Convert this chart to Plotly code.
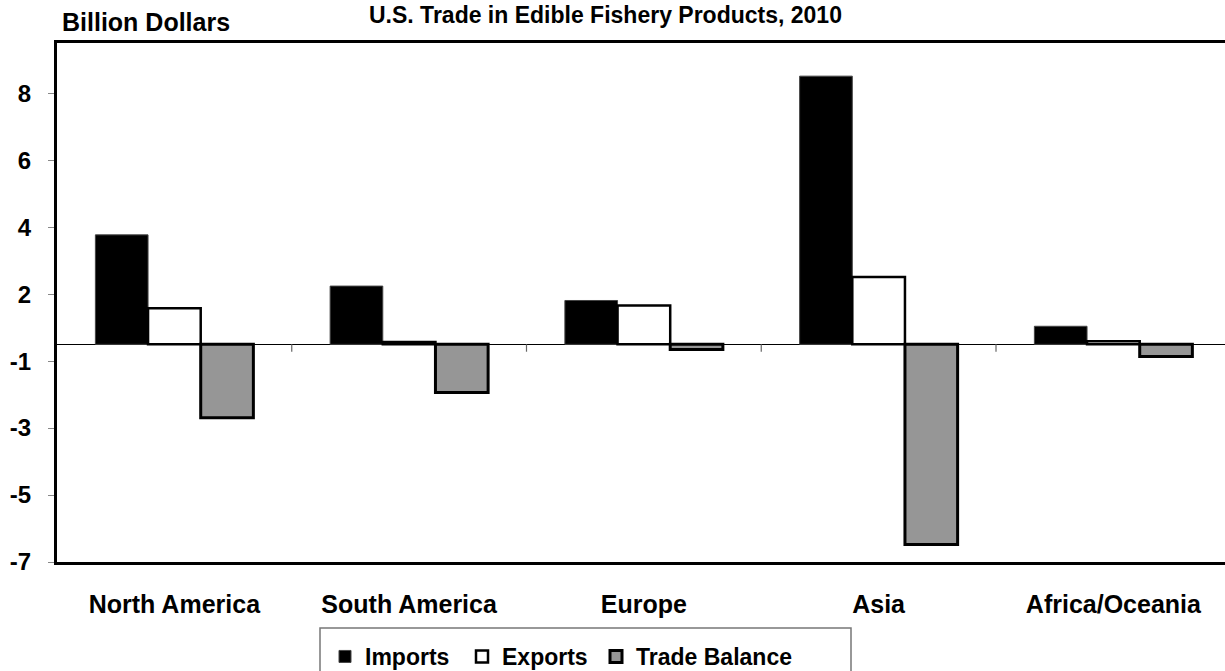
import plotly.graph_objects as go

regions = ["North America", "South America", "Europe", "Asia", "Africa/Oceania"]
imports = [3.27, 1.74, 1.31, 8.01, 0.54]
exports = [1.08, 0.07, 1.16, 2.01, 0.09]
trade_balance = [-2.19, -1.44, -0.15, -5.98, -0.36]

y_tick_vals = [-6.5, -4.5, -2.5, -0.5, 1.5, 3.5, 5.5, 7.5]
y_tick_text = ["-7", "-5", "-3", "-1", "2", "4", "6", "8"]

FONT = "Liberation Sans, Arial, sans-serif"

W, H = 1225, 671
ML, MT, MB = 57, 43, 109
plot_w = W - ML
plot_h = H - MT - MB


def px_x(p):
    return (p - ML) / plot_w


def px_y(p):
    return (H - MB - p) / plot_h


fig = go.Figure()
fig.add_trace(go.Bar(name="Imports", x=regions, y=imports, legend="legend",
                     marker=dict(color="#000000", line=dict(color="#444444", width=1))))
fig.add_trace(go.Bar(name="Exports", x=regions, y=exports, legend="legend2",
                     marker=dict(color="#ffffff", line=dict(color="#000000", width=2.5))))
fig.add_trace(go.Bar(name="Trade Balance", x=regions, y=trade_balance, legend="legend3",
                     marker=dict(color="#969696", line=dict(color="#000000", width=3))))

n = len(regions)
cat_w = 234.75
span = plot_w / cat_w

shapes = []
for i in range(n - 1):
    shapes.append(dict(type="line", xref="x", yref="y", x0=i + 0.5, x1=i + 0.5,
                       y0=0, y1=-0.22, line=dict(color="#666666", width=1.2)))
shapes.append(dict(type="rect", xref="paper", yref="paper",
                   x0=px_x(320), x1=px_x(851),
                   y0=px_y(700), y1=px_y(628),
                   line=dict(color="#777777", width=1.5), fillcolor="rgba(0,0,0,0)"))

legend_font = dict(family=FONT, size=23, weight="bold", color="#000000")


def make_legend(left_px):
    return dict(orientation="h", x=px_x(left_px), xanchor="left",
                y=px_y(635), yanchor="top", font=legend_font,
                bgcolor="rgba(0,0,0,0)", borderwidth=0, itemwidth=30)


fig.update_layout(
    width=W, height=H, autosize=False,
    margin=dict(l=ML, r=0, t=MT, b=MB, pad=0, autoexpand=False),
    paper_bgcolor="white", plot_bgcolor="white",
    barmode="group", bargap=0.327, bargroupgap=0,
    font=dict(family=FONT, color="#000000"),
    showlegend=True,
    legend=make_legend(325),
    legend2=make_legend(462),
    legend3=make_legend(596),
    xaxis=dict(type="category", range=[-0.5, -0.5 + span],
               showline=True, linecolor="#000000", linewidth=3, mirror=True,
               ticks="", showgrid=False, ticklabelstandoff=18,
               tickfont=dict(family=FONT, size=25, weight="bold", color="#000000")),
    yaxis=dict(range=[-6.5, 9], tickmode="array", tickvals=y_tick_vals, ticktext=y_tick_text,
               showline=True, linecolor="#000000", linewidth=3,
               ticks="outside", ticklen=6, tickcolor="#888888", tickwidth=1,
               showgrid=False, zeroline=True, zerolinecolor="#000000", zerolinewidth=1.2,
               ticklabelstandoff=12,
               tickfont=dict(family=FONT, size=24, weight="bold", color="#000000")),
    shapes=shapes,
    annotations=[
        dict(text="U.S. Trade in Edible Fishery Products, 2010", xref="paper", yref="paper",
             x=px_x(605), y=px_y(0), xanchor="center", yanchor="top",
             showarrow=False, font=dict(family=FONT, size=23, weight="bold", color="#000000")),
        dict(text="Billion Dollars", xref="paper", yref="paper",
             x=px_x(60), y=px_y(38), xanchor="left", yanchor="bottom",
             showarrow=False, font=dict(family=FONT, size=25, weight="bold", color="#000000")),
    ],
)

post = """
document.documentElement.style.margin='0';
document.body.style.margin='0';
document.documentElement.style.overflow='hidden';
document.body.style.overflow='hidden';
"""

fig.write_html("out.html", config={"displayModeBar": False}, post_script=post)
